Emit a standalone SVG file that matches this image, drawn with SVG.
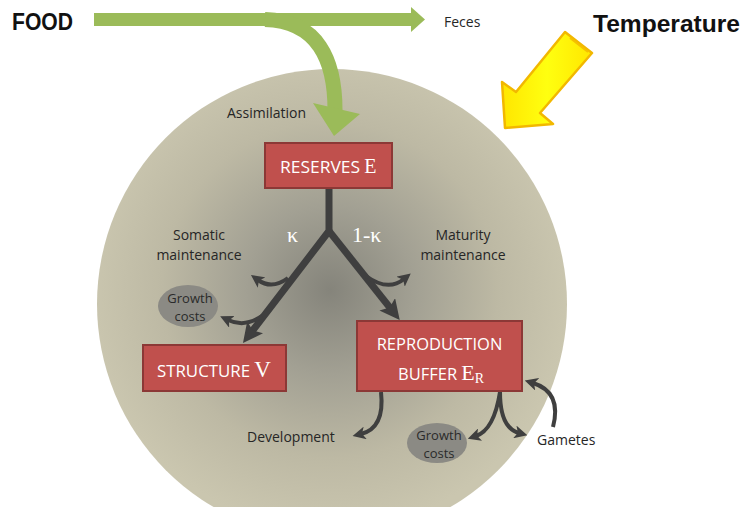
<svg xmlns="http://www.w3.org/2000/svg" width="744" height="507" viewBox="0 0 744 507">
<defs>
<radialGradient id="cellGrad" cx="330" cy="290" r="240" gradientUnits="userSpaceOnUse">
<stop offset="0" stop-color="#85847b"/>
<stop offset="0.35" stop-color="#a2a093"/>
<stop offset="0.7" stop-color="#bdb9a4"/>
<stop offset="1" stop-color="#cac6af"/>
</radialGradient>
<linearGradient id="yellowGrad" x1="0" y1="0" x2="1" y2="0">
<stop offset="0" stop-color="#ffe600"/>
<stop offset="0.5" stop-color="#ffff10"/>
<stop offset="1" stop-color="#ffe600"/>
</linearGradient>
<marker id="bigHead" viewBox="0 0 20 20" markerUnits="userSpaceOnUse" markerWidth="20" markerHeight="20" refX="6" refY="10" orient="auto">
<path d="M0,0 L20,10 L0,20 L4,10 z" fill="#3f3f3f"/>
</marker>
<marker id="smallHead" viewBox="0 0 12 12" markerUnits="userSpaceOnUse" markerWidth="13" markerHeight="13" refX="4" refY="6" orient="auto">
<path d="M0,0 L12,6 L0,12 L3,6 z" fill="#3f3f3f"/>
</marker>
<style>
.lbl{font-family:"Open Sans","Liberation Sans",sans-serif;font-size:14px;fill:#262626}
.big{font-family:"Liberation Sans",Arial,sans-serif;font-weight:bold;font-size:23px;fill:#111}
.box{fill:#c0504d;stroke:#8c3836;stroke-width:2}
.btxt{font-family:"Open Sans","Liberation Sans",sans-serif;font-size:16.5px;fill:#ffffff}
.ser{font-family:"Liberation Serif","Times New Roman",serif;fill:#ffffff}
.gc{fill:#8b8a84}
.gtxt{font-family:"Open Sans","Liberation Sans",sans-serif;font-size:13px;fill:#2a2a2a;text-anchor:middle}
.thick{fill:none;stroke:#3f3f3f;stroke-width:7;stroke-linejoin:round}
.thin{fill:none;stroke:#3f3f3f;stroke-width:4}
.green{fill:#9bbb59}
</style>
</defs>

<g id="cell">
<circle cx="332" cy="304" r="235" fill="url(#cellGrad)"/>
</g>

<g id="food">
<text class="big" x="12" y="30" textLength="61" lengthAdjust="spacingAndGlyphs">FOOD</text>
</g>
<g id="feces">
<text class="lbl" x="444" y="27">Feces</text>
</g>
<g id="temperature">
<text class="big" x="593" y="32" font-size="24" textLength="147" lengthAdjust="spacingAndGlyphs">Temperature</text>
</g>
<g id="temperature-arrow">
<polygon points="565,32 592,53 540,113 553,124 505,128 502,82 516,92" fill="url(#yellowGrad)" stroke="#f2b800" stroke-width="2.5" stroke-linejoin="round"/>
<line x1="570" y1="38" x2="588" y2="52" stroke="#f5c000" stroke-width="2"/>
</g>

<g id="assimilation-label">
<text class="lbl" x="227" y="118">Assimilation</text>
</g>

<g id="connectors">
<rect class="green" x="94" y="13" width="318" height="13"/>
<polygon class="green" points="411,7 425,19.5 411,32"/>
<path d="M 265 19.5 C 318 21, 335 60, 335 110" fill="none" stroke="#9bbb59" stroke-width="15"/>
<polygon class="green" points="313,103 360,114 334,136"/>

<path class="thick" d="M 329 188 L 329 231 L 251.5 332" marker-end="url(#bigHead)"/>
<path class="thick" d="M 329 231 L 391 309" marker-end="url(#bigHead)"/>

<path class="thin" d="M 288 278 Q 272 290 258 280" marker-end="url(#smallHead)"/>
<path class="thin" d="M 366 276 Q 388 292 404 279" marker-end="url(#smallHead)"/>
<path class="thin" d="M 262 316 Q 245 328 228 320" marker-end="url(#smallHead)"/>
<path class="thin" d="M 381 392 Q 385 428 361 434" marker-end="url(#smallHead)"/>
<path class="thin" d="M 500 392 Q 494 430 476 436" marker-end="url(#smallHead)"/>
<path class="thin" d="M 500 392 Q 500 428 519 433" marker-end="url(#smallHead)"/>
<path class="thin" d="M 553 427 Q 562 392 533 383" marker-end="url(#smallHead)"/>
</g>

<g id="reserves">
<rect class="box" x="265" y="143" width="127" height="45"/>
<text class="btxt" x="280" y="173"><tspan textLength="80" lengthAdjust="spacingAndGlyphs">RESERVES</tspan> <tspan class="ser" font-size="20">E</tspan></text>
</g>

<g id="kappa-labels">
<text class="ser" x="287" y="242" font-size="22">κ</text>
<text class="ser" x="352" y="242" font-size="22">1-κ</text>
</g>

<g id="somatic-maintenance">
<text class="lbl" text-anchor="middle" x="199" y="240">Somatic</text>
<text class="lbl" text-anchor="middle" x="199" y="260">maintenance</text>
</g>
<g id="maturity-maintenance">
<text class="lbl" text-anchor="middle" x="463" y="240">Maturity</text>
<text class="lbl" text-anchor="middle" x="463" y="260">maintenance</text>
</g>

<g id="growth-costs-1">
<ellipse class="gc" cx="188" cy="306" rx="30" ry="21"/>
<text class="gtxt" x="190" y="303">Growth</text>
<text class="gtxt" x="190" y="321">costs</text>
</g>

<g id="structure">
<rect class="box" x="143" y="345" width="143" height="46"/>
<text class="btxt" x="157" y="377"><tspan textLength="93" lengthAdjust="spacingAndGlyphs">STRUCTURE</tspan> <tspan class="ser" font-size="23">V</tspan></text>
</g>

<g id="reproduction-buffer">
<rect class="box" x="357" y="321" width="165" height="70"/>
<text class="btxt" x="439.5" y="350" text-anchor="middle">REPRODUCTION</text>
<text class="btxt" x="398" y="380">BUFFER <tspan class="ser" font-size="22">E</tspan><tspan class="ser" font-size="14" dy="3">R</tspan></text>
</g>

<g id="development">
<text class="lbl" x="247" y="442">Development</text>
</g>

<g id="growth-costs-2">
<ellipse class="gc" cx="437" cy="443" rx="30" ry="20"/>
<text class="gtxt" x="439" y="440">Growth</text>
<text class="gtxt" x="439" y="458">costs</text>
</g>

<g id="gametes">
<text class="lbl" x="537" y="445">Gametes</text>
</g>
</svg>
